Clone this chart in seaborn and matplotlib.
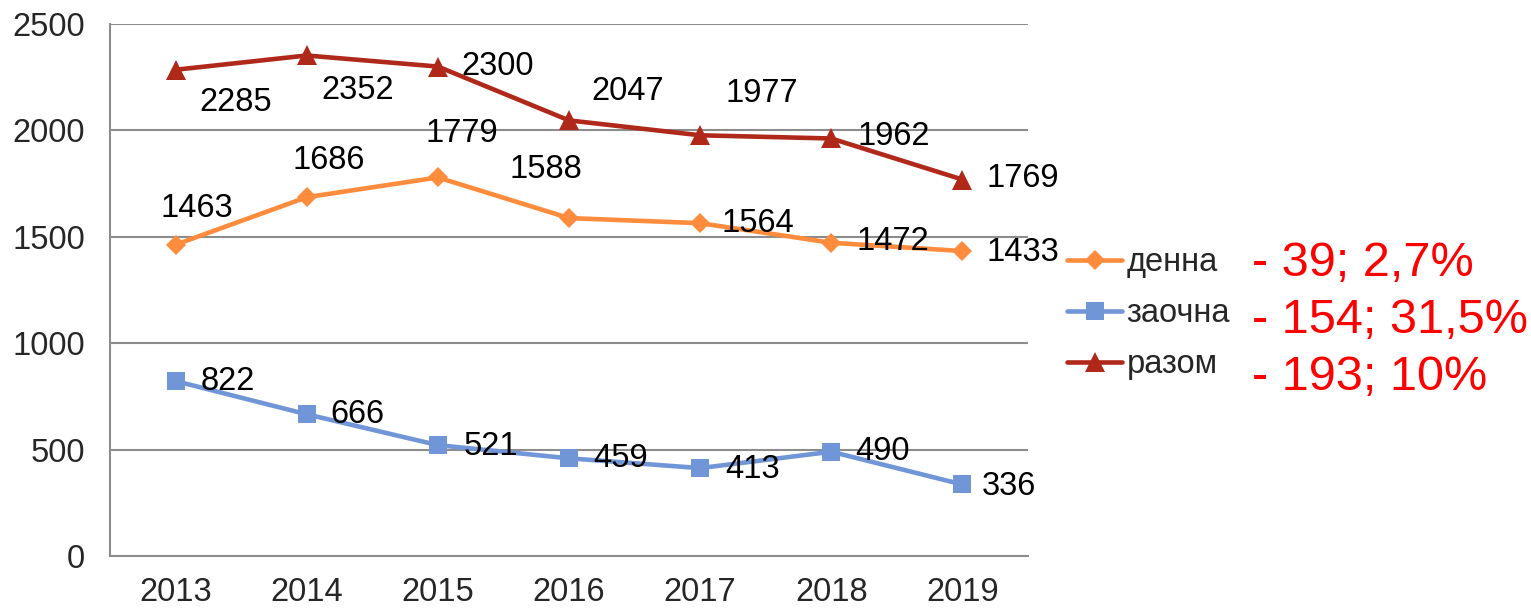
import numpy as np
import pandas as pd
import matplotlib
matplotlib.use("Agg")
import matplotlib.pyplot as plt
import seaborn as sns

# ── DATA ──────────────────────────────────────────────────────────────────────
years = ["2013", "2014", "2015", "2016", "2017", "2018", "2019"]
denna = [1463, 1686, 1779, 1588, 1564, 1472, 1433]
zaochna = [822, 666, 521, 459, 413, 490, 336]
razom = [2285, 2352, 2300, 2047, 1977, 1962, 1769]
series_names = ["денна", "заочна", "разом"]
change_notes = ["- 39; 2,7%", "- 154; 31,5%", "- 193; 10%"]

# label offsets (pixels) for each data label
off_denna = [(21, 36), (22, 37), (24, 44), (-23, 49), (58, 0), (62, 1), (60, -1)]
off_zaochna = [(52, 0), (51, 0), (53, -1), (52, 0), (52, -1), (51, 0), (46, -2)]
off_razom = [(60, -33), (51, -35), (60, 0), (59, 29), (62, 42), (62, 2), (60, 1)]

colors = ["#FF8B3D", "#7096D8", "#B0281A"]
markers = ["D", "s", "^"]
msizes = [10.5, 13, 15]

sns.set_style("white")
plt.rcParams["font.family"] = ["Liberation Sans", "DejaVu Sans"]

fig = plt.figure(figsize=(15.31, 6.08), dpi=100)
ax = fig.add_axes([110 / 1531, 52 / 608, 918 / 1531, 532 / 608])

x = np.arange(len(years))
all_vals = [denna, zaochna, razom]
all_offs = [off_denna, off_zaochna, off_razom]
for name, vals, offs, c, m, ms in zip(series_names, all_vals, all_offs,
                                      colors, markers, msizes):
    df = pd.DataFrame({"x": x, "y": vals})
    sns.lineplot(data=df, x="x", y="y", ax=ax, color=c, linewidth=3.3,
                 marker=m, markersize=ms, markeredgewidth=0, label=name)
    for xi, v, (dx, dy) in zip(x, vals, offs):
        ax.annotate(str(v), (xi, v), xytext=(dx, dy), textcoords="offset pixels",
                    ha="center", va="center", fontsize=23.5, color="black")

ax.set_xlim(-0.5, len(years) - 0.5)
ax.set_ylim(0, 2500)
ax.set_yticks(np.arange(0, 2501, 500))
ax.set_xticks(x)
ax.set_xticklabels(years)
ax.set_xticks(np.arange(-0.5, len(years), 1), minor=True)
ax.tick_params(axis="x", which="major", length=0, labelsize=23.5, pad=15)
ax.tick_params(axis="x", which="minor", length=9, color="#8C8C8C", width=1.5)
ax.tick_params(axis="y", length=9, color="#8C8C8C", width=1.5, labelsize=23.5, pad=9)
ax.set_xlabel("")
ax.set_ylabel("")
ax.grid(axis="y", color="#8C8C8C", linewidth=1.5)
ax.set_axisbelow(True)
for s in ["top", "right"]:
    ax.spines[s].set_visible(False)
for s in ["left", "bottom"]:
    ax.spines[s].set_color("#8C8C8C")
    ax.spines[s].set_linewidth(1.5)

ax.legend_.remove()
handles, labels = ax.get_legend_handles_labels()
fig.legend(handles, labels, loc="upper left", bbox_to_anchor=(1067 / 1531, 1 - 247 / 608),
           frameon=False, fontsize=23.5, handlelength=1.7, handletextpad=0.12,
           labelspacing=0.62, borderaxespad=0, borderpad=0)

for i, note in enumerate(change_notes):
    fig.text(1252 / 1531, 1 - (263 + 57.5 * i) / 608, note, color="#FF0000",
             fontsize=35, ha="left", va="center")

fig.savefig("out.png", dpi=100)
